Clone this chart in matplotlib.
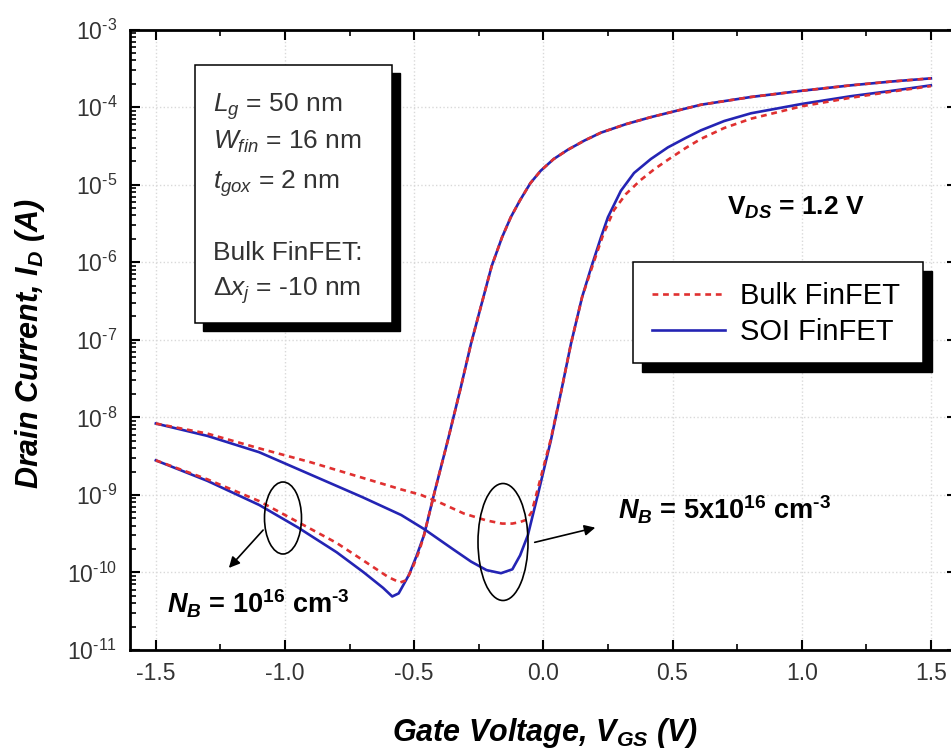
import matplotlib.pyplot as plt
import numpy as np
from matplotlib.patches import Rectangle, Ellipse
from matplotlib.ticker import LogLocator, MultipleLocator, FormatStrFormatter, NullFormatter, FuncFormatter

plt.rcParams['font.family'] = ['Liberation Sans', 'DejaVu Sans']
plt.rcParams['mathtext.fontset'] = 'custom'
plt.rcParams['mathtext.rm'] = 'Liberation Sans'
plt.rcParams['mathtext.it'] = 'Liberation Sans:italic'
plt.rcParams['mathtext.bf'] = 'Liberation Sans:bold'
plt.rcParams['mathtext.bfit'] = 'Liberation Sans:italic:bold'
plt.rcParams['mathtext.default'] = 'regular'
plt.rcParams['axes.unicode_minus'] = False

W, H = 951, 756

# N_B = 1e16, SOI FinFET (log10 of I_D)
vg_soi_lo = [-1.5, -1.3, -1.1, -0.95, -0.8, -0.695, -0.62, -0.585, -0.56, -0.52, -0.49,
             -0.462, -0.42, -0.37, -0.32, -0.28, -0.24, -0.2, -0.16, -0.126, -0.09, -0.05,
             -0.01, 0.04, 0.095, 0.16, 0.223, 0.32, 0.416, 0.61, 0.804, 1.0, 1.19, 1.35, 1.5]
logid_soi_lo = [-8.555, -8.82, -9.13, -9.42, -9.74, -10.0, -10.2, -10.31, -10.27, -10.03, -9.78,
                -9.52, -8.95, -8.30, -7.62, -7.05, -6.55, -6.05, -5.68, -5.42, -5.20, -4.98,
                -4.82, -4.67, -4.55, -4.43, -4.33, -4.22, -4.13, -3.97, -3.87, -3.79, -3.72, -3.67, -3.63]

# N_B = 1e16, bulk FinFET
vg_bulk_lo = [-1.5, -1.3, -1.1, -0.95, -0.8, -0.695, -0.6, -0.555, -0.53, -0.505, -0.48,
              -0.462, -0.42, -0.37, -0.32, -0.28, -0.24, -0.2, -0.16, -0.126, -0.09, -0.05,
              -0.01, 0.04, 0.095, 0.16, 0.223, 0.32, 0.416, 0.61, 0.804, 1.0, 1.19, 1.35, 1.5]
logid_bulk_lo = [-8.555, -8.80, -9.08, -9.35, -9.62, -9.85, -10.06, -10.13, -10.10, -9.93, -9.72,
                 -9.52, -8.95, -8.30, -7.62, -7.05, -6.55, -6.05, -5.68, -5.42, -5.20, -4.98,
                 -4.82, -4.67, -4.55, -4.43, -4.33, -4.22, -4.13, -3.97, -3.87, -3.79, -3.72, -3.67, -3.63]

# N_B = 5e16, SOI FinFET
vg_soi_hi = [-1.5, -1.3, -1.1, -0.9, -0.7, -0.55, -0.462, -0.35, -0.28, -0.22, -0.164, -0.12,
             -0.09, -0.06, -0.02, 0.029, 0.07, 0.107, 0.15, 0.184, 0.223, 0.25, 0.30, 0.351,
             0.416, 0.482, 0.55, 0.61, 0.7, 0.804, 1.0, 1.19, 1.35, 1.5]
logid_soi_hi = [-8.08, -8.24, -8.45, -8.74, -9.03, -9.26, -9.44, -9.70, -9.86, -9.97, -10.01, -9.96,
                -9.78, -9.52, -8.98, -8.30, -7.65, -7.05, -6.45, -6.08, -5.68, -5.42, -5.08, -4.85,
                -4.67, -4.52, -4.40, -4.30, -4.18, -4.08, -3.96, -3.86, -3.79, -3.72]

# N_B = 5e16, bulk FinFET
vg_bulk_hi = [-1.5, -1.3, -1.1, -0.9, -0.7, -0.55, -0.474, -0.4, -0.308, -0.22, -0.16, -0.12,
              -0.09, -0.065, -0.045, 0.029, 0.07, 0.107, 0.15, 0.19, 0.23, 0.273, 0.32, 0.377,
              0.43, 0.482, 0.55, 0.61, 0.7, 0.804, 1.0, 1.19, 1.35, 1.5]
logid_bulk_hi = [-8.08, -8.21, -8.40, -8.58, -8.78, -8.93, -9.0, -9.10, -9.24, -9.33, -9.37, -9.37,
                 -9.35, -9.32, -9.22, -8.28, -7.65, -7.05, -6.45, -6.05, -5.66, -5.33, -5.12, -4.94,
                 -4.80, -4.68, -4.53, -4.41, -4.27, -4.15, -3.99, -3.88, -3.80, -3.73]

info_lines = [r'$\mathit{L_g}$ = 50 nm', r'$\mathit{W_{fin}}$ = 16 nm', r'$\mathit{t_{gox}}$ = 2 nm',
              'Bulk FinFET:', r'Δ$\mathit{x_j}$ = -10 nm']
info_baselines = [112, 149, 189, 260, 296]

soi_color = '#2424b4'
bulk_color = '#e03030'


def fx(x):
    return x / W


def fy(y):
    return 1 - y / H


def decade_label(v, pos):
    e = int(round(np.log10(v)))
    return r'10$^{\text{%d}}$' % e


fig = plt.figure(figsize=(W / 100, H / 100), dpi=100)
ax = fig.add_axes([fx(130), fy(650), 826.7 / W, (650 - 29.5) / H])

for vg, lg in [(vg_soi_lo, logid_soi_lo), (vg_soi_hi, logid_soi_hi)]:
    soi_line, = ax.plot(vg, 10 ** np.array(lg), color=soi_color, lw=1.9, zorder=3)
for vg, lg in [(vg_bulk_lo, logid_bulk_lo), (vg_bulk_hi, logid_bulk_hi)]:
    bulk_line, = ax.plot(vg, 10 ** np.array(lg), color=bulk_color, lw=1.9,
                         dashes=(2.2, 1.8), zorder=4)

ax.set_yscale('log')
ax.set_xlim(-1.6, 1.6)
ax.set_ylim(1e-11, 1e-3)
ax.yaxis.set_major_locator(LogLocator(base=10, numticks=20))
ax.yaxis.set_minor_locator(LogLocator(base=10, subs=range(2, 10), numticks=20))
ax.yaxis.set_major_formatter(FuncFormatter(decade_label))
ax.yaxis.set_minor_formatter(NullFormatter())
ax.xaxis.set_major_locator(MultipleLocator(0.5))
ax.xaxis.set_minor_locator(MultipleLocator(0.25))
ax.xaxis.set_major_formatter(FormatStrFormatter('%.1f'))
ax.grid(True, which='major', color='#d9d9d9', linestyle=':', linewidth=1)
ax.tick_params(which='both', direction='in', top=True, right=True, labelsize=16.5,
               labelcolor='#333333', pad=9)
ax.tick_params(which='major', length=7, width=1.5)
ax.tick_params(which='minor', length=4, width=1.2)
for s in ax.spines.values():
    s.set_linewidth(2)

# boxes with drop shadows
for (x0, y0, x1, y1, off) in [(195, 65, 392, 323, 8), (633, 262, 923, 363, 9)]:
    ax.add_patch(Rectangle((fx(x0 + off), fy(y1 + off)), fx(x1 - x0), (y1 - y0) / H,
                           transform=fig.transFigure, facecolor='black', edgecolor='black',
                           clip_on=False, zorder=6))
    ax.add_patch(Rectangle((fx(x0), fy(y1)), fx(x1 - x0), (y1 - y0) / H,
                           transform=fig.transFigure, facecolor='white', edgecolor='black',
                           lw=1.1, clip_on=False, zorder=7))

for s, yb in zip(info_lines, info_baselines):
    ax.text(fx(213), fy(yb), s, transform=fig.transFigure, fontsize=19, color='#333333',
            va='baseline', ha='left', zorder=8)

leg = ax.legend([bulk_line, soi_line], ['Bulk FinFET', 'SOI FinFET'], loc='center',
                bbox_to_anchor=(fx(776), fy(314)), bbox_transform=fig.transFigure,
                frameon=False, fontsize=21, handlelength=2.5, handletextpad=0.5,
                labelspacing=0.28)
leg.set_zorder(9)

ax.text(fx(727), fy(215), r'V$_{\mathbfit{DS}}$ = 1.2 V', transform=fig.transFigure,
        fontsize=19, fontweight='bold', va='baseline', zorder=8)
ax.text(fx(618), fy(520), '$\\mathbfit{N_B}$ = 5x10$^{16}$ cm$^{\u20103}$', transform=fig.transFigure,
        fontsize=19.5, fontweight='bold', va='baseline', zorder=8)
ax.text(fx(167), fy(613), '$\\mathbfit{N_B}$ = 10$^{16}$ cm$^{\u20103}$', transform=fig.transFigure,
        fontsize=19.5, fontweight='bold', va='baseline', zorder=8)

# ellipses and arrows
ax.add_patch(Ellipse((fx(283), fy(518)), fx(37), 72 / H, transform=fig.transFigure,
                     fill=False, edgecolor='black', lw=1.2, clip_on=False, zorder=8))
ax.add_patch(Ellipse((fx(503), fy(542)), fx(50), 117 / H, transform=fig.transFigure,
                     fill=False, edgecolor='black', lw=1.2, clip_on=False, zorder=8))
ax.annotate('', xy=(227, H - 570), xytext=(265, H - 528), xycoords='figure pixels',
            textcoords='figure pixels',
            arrowprops=dict(arrowstyle='-|>', color='black', lw=1.2, mutation_scale=16))
ax.annotate('', xy=(598, H - 527), xytext=(532, H - 543), xycoords='figure pixels',
            textcoords='figure pixels',
            arrowprops=dict(arrowstyle='-|>', color='black', lw=1.2, mutation_scale=16))

fig.text(fx(545), fy(733), r'Gate Voltage, V$_{GS}$ (V)', fontsize=22, fontweight='bold',
         style='italic', ha='center', va='center')
fig.text(fx(30), fy(344), r'Drain Current, I$_D$ (A)', fontsize=22, fontweight='bold',
         style='italic', ha='center', va='center', rotation=90)

fig.savefig('out.png', dpi=100)
